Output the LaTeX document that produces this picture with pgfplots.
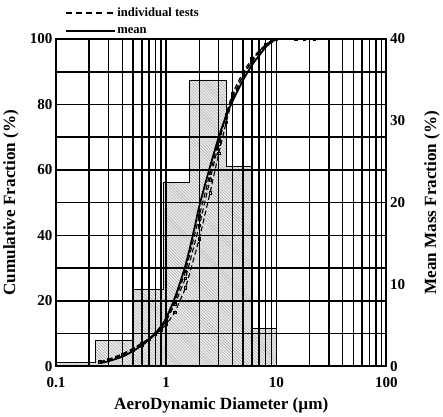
\documentclass[border=0pt]{standalone}
\usepackage{fontspec}
\setmainfont{Liberation Serif}
\usepackage{pgfplots}
\pgfplotsset{compat=1.18}
\usetikzlibrary{patterns}
\begin{document}
\begin{tikzpicture}
% right axis: mean mass fraction histogram
\begin{axis}[
  scale only axis, width=328pt, height=325pt,
  xmode=log, xmin=0.1, xmax=100,
  ymin=0, ymax=40,
  tick style={draw=none},
  /pgf/number format/assume math mode=true,
  ticklabel style={font=\bfseries\fontsize{15}{15}\selectfont},
  label style={font=\bfseries\fontsize{17}{17}\selectfont},
  ylabel style={yshift=-12pt},
  axis x line=none, axis y line*=right,
  ytick={0,10,20,30,40},
  ylabel={Mean Mass Fraction (\%)},
  axis line style={line width=1.8pt},
]
\addplot[const plot mark left, draw=black, line width=0.9pt, fill=gray!16,
  postaction={pattern=north west lines, pattern color=gray!70}]
  coordinates {(0.1,0.52) (0.226,3.12) (0.5,9.36) (0.94,22.5) (1.61,35.0) (3.5,24.4) (5.9,4.64) (10,4.64)} \closedcycle;
\end{axis}
% left axis: cumulative fraction
\begin{axis}[
  scale only axis, width=328pt, height=325pt,
  xmode=log, xmin=0.1, xmax=100,
  ymin=0, ymax=100, clip=false,
  tick style={draw=none},
  /pgf/number format/assume math mode=true,
  ticklabel style={font=\bfseries\fontsize{15}{15}\selectfont},
  xticklabel style={yshift=-7pt},
  label style={font=\bfseries\fontsize{17}{17}\selectfont},
  xlabel style={yshift=-3pt},
  ylabel style={yshift=4pt},
  xtick={0.1,1,10,100}, xticklabels={0.1,1,10,100},
  minor xtick={0.2,0.3,0.4,0.5,0.6,0.7,0.8,0.9,2,3,4,5,6,7,8,9,20,30,40,50,60,70,80,90},
  ytick={0,20,40,60,80,100}, minor ytick={10,30,50,70,90},
  xmajorgrids, xminorgrids, ymajorgrids, yminorgrids,
  major grid style={black, line width=1.5pt},
  minor grid style={black, line width=1.5pt},
  axis line style={line width=2pt},
  xlabel={AeroDynamic Diameter (\textmu m)},
  ylabel={Cumulative Fraction (\%)},
  legend style={at={(rel axis cs:0.025,1.0)}, anchor=south west, yshift=-4pt, draw=none, fill=none,
    font=\bfseries\fontsize{12.5}{13}\selectfont, row sep=5pt, inner xsep=1pt, inner ysep=6pt},
  legend cell align=left,
  legend image code/.code={\draw[#1] (0pt,0pt) -- (48pt,0pt);},
]
\addplot[black, line width=1.1pt, dash pattern=on 5pt off 3pt, mark=square, mark size=1.1pt, mark options={solid, line width=0.6pt}, forget plot] coordinates {(0.25,1.3) (0.3,2.0) (0.4,3.6) (0.5,5.3) (0.6,7.0) (0.7,8.6) (0.8,10.2) (0.9,12) (1.0,14) (1.2,19) (1.5,27) (2.0,43) (2.5,57) (3.0,68) (3.5,77) (4.0,83.5) (5.0,90) (6.0,94) (7,96.5) (8,98.3) (9,99.5) (10,100) (22,100)};
\addplot[black, line width=1.1pt, dash pattern=on 5pt off 3pt, mark=square, mark size=1.1pt, mark options={solid, line width=0.6pt}, forget plot] coordinates {(0.25,1.4) (0.3,2.2) (0.4,3.8) (0.5,5.5) (0.6,7.1) (0.7,8.5) (0.8,9.8) (0.9,11.2) (1.0,12.8) (1.2,16.5) (1.5,24) (2.0,39) (2.5,53) (3.0,65) (3.5,74.5) (4,81.5) (5,89) (6,93.5) (7,96.2) (8,98.2) (9,99.4) (10,100) (18,100)};
\addplot[black, line width=1.1pt, dash pattern=on 5pt off 3pt, mark=square, mark size=1.1pt, mark options={solid, line width=0.6pt}, forget plot] coordinates {(0.25,1.2) (0.3,1.9) (0.4,3.4) (0.5,5.0) (0.6,6.6) (0.7,8.2) (0.8,9.8) (0.9,11.8) (1.0,13.8) (1.2,20) (1.5,29) (2.0,46) (2.5,59) (3,69) (3.5,77) (4,82.5) (5,89) (6,93) (7,96) (8,98) (9,99.3) (10,100) (15,100)};
\addplot[black, line width=1.8pt, smooth, forget plot] coordinates {(0.25,1.0) (0.3,1.6) (0.4,3.0) (0.5,4.7) (0.6,6.4) (0.7,8.2) (0.8,10.2) (0.9,12.3) (1.0,14.8) (1.2,21) (1.5,31) (1.8,42) (2.0,49) (2.5,61) (3.0,70) (3.5,76.5) (4.0,81) (5.0,87.5) (6.0,92) (7.0,95) (8.0,97.5) (9.0,99) (10,100)};
\addlegendimage{black, line width=1.4pt, dash pattern=on 6pt off 4pt}
\addlegendentry{individual tests}
\addlegendimage{black, line width=1.4pt}
\addlegendentry{mean}
\end{axis}
\end{tikzpicture}
\end{document}
